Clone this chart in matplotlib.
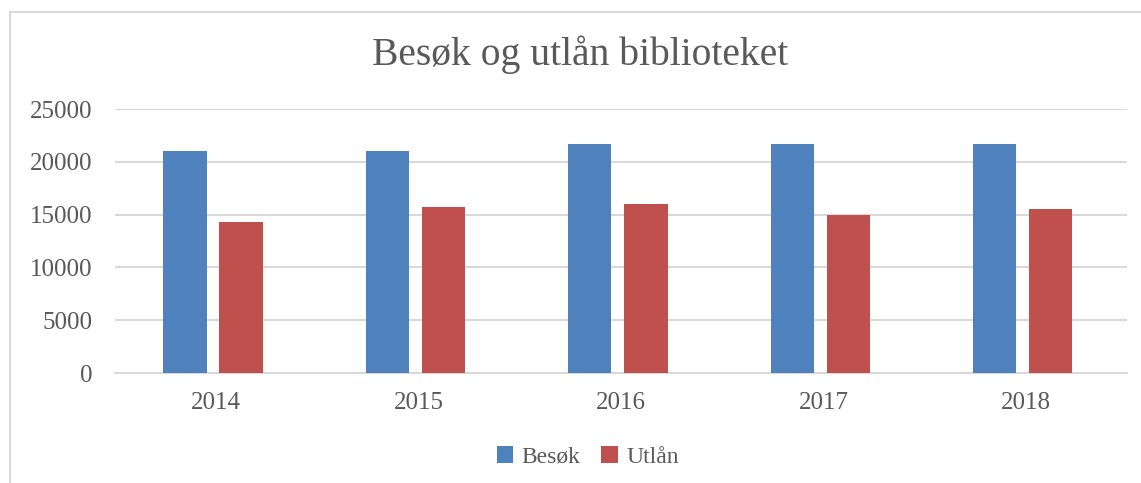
import matplotlib.pyplot as plt
import numpy as np
from matplotlib.patches import Rectangle

years = ["2014", "2015", "2016", "2017", "2018"]
besok = [21000, 21000, 21700, 21700, 21700]
utlan = [14300, 15700, 16000, 15000, 15500]
y_ticks = [0, 5000, 10000, 15000, 20000, 25000]

plt.rcParams['font.family'] = ['Liberation Serif', 'DejaVu Serif']
text_color = "#595959"
grid_color = "#d9d9d9"

fig = plt.figure(figsize=(11.41, 4.83), dpi=100)
ax = fig.add_axes([115 / 1141, 1 - 373 / 483, (1127 - 115) / 1141, (373 - 109) / 483])

x = np.arange(len(years))
w = 0.214
ax.bar(x - 0.154, besok, width=w, color="#4f81bd", label="Besøk", zorder=3)
ax.bar(x + 0.123, utlan, width=w, color="#c0504d", label="Utlån", zorder=3)

ax.set_xlim(-0.5, len(years) - 0.5)
ax.set_ylim(0, 25000)
ax.set_yticks(y_ticks)
ax.set_xticks(x)
ax.set_xticklabels(years)

ax.grid(axis="y", color=grid_color, linewidth=1.5, zorder=0)
for s in ["top", "right", "left"]:
    ax.spines[s].set_visible(False)
ax.spines["bottom"].set_color(grid_color)
ax.spines["bottom"].set_linewidth(1.5)
ax.tick_params(length=0, labelsize=18, labelcolor=text_color)
ax.tick_params(axis="y", pad=16)
ax.tick_params(axis="x", pad=14)

fig.text(0.508, 1 - 55 / 483, "Besøk og utlån biblioteket", ha="center", va="center",
         fontsize=28.5, color=text_color)

fig.legend(loc="center", bbox_to_anchor=(0.515, 1 - 457 / 483), ncol=2, frameon=False,
           fontsize=17, labelcolor=text_color, handlelength=0.7, handleheight=0.7,
           handletextpad=0.35, columnspacing=0.9)

# chart border
fig.patches.append(Rectangle((10 / 1141, -0.1), 1.2, 1 - 12 / 483 + 0.1, transform=fig.transFigure,
                             fill=False, edgecolor=grid_color, linewidth=1.5))

fig.savefig("out.png", dpi=100)
